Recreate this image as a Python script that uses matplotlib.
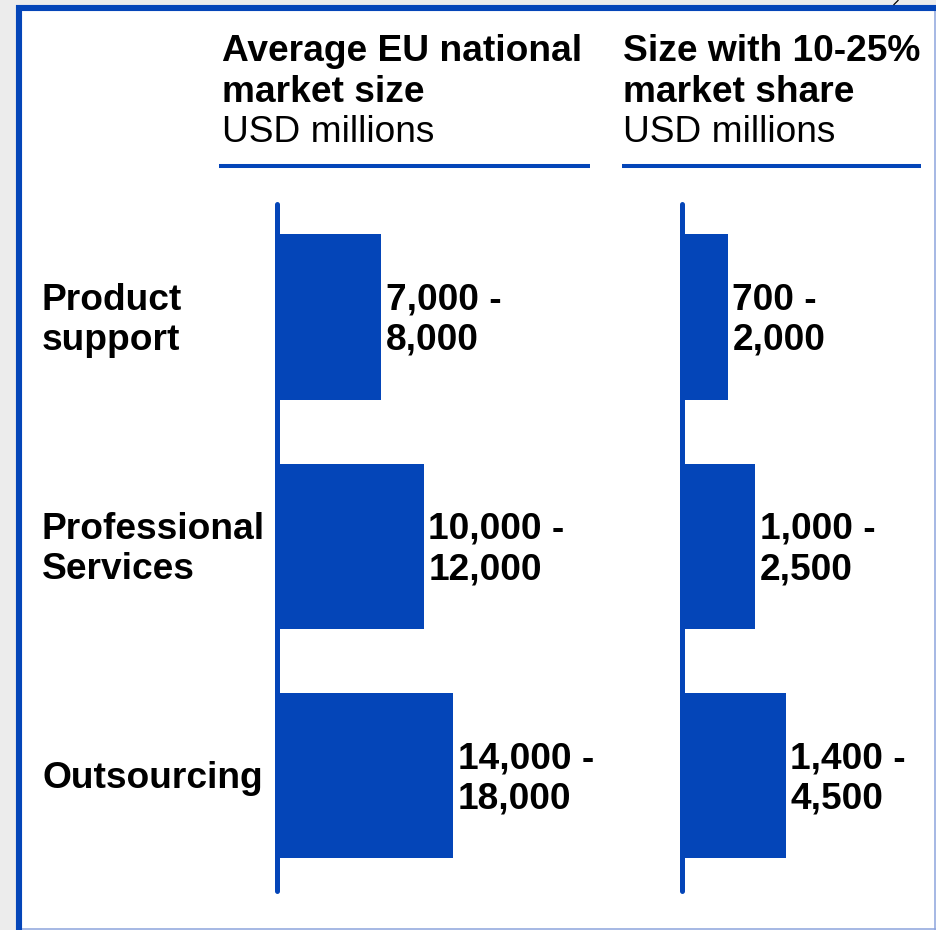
import matplotlib
matplotlib.use('Agg')
import matplotlib.pyplot as plt
from matplotlib.patches import Rectangle
from matplotlib.lines import Line2D
from matplotlib.transforms import blended_transform_factory

plt.rcParams['font.family'] = ['Liberation Sans', 'DejaVu Sans']

W, H = 936, 930
BLUE = '#0445B8'
FS = 26.7
LS = 1.19
NUDGE = 0.014  # push two-line labels down a touch so caps sit centred on the bar

categories = ['Product\nsupport', 'Professional\nServices', 'Outsourcing']
market_low = [7000, 10000, 14000]
market_high = [8000, 12000, 18000]
share_low = [700, 1000, 1400]
share_high = [2000, 2500, 4500]
# bar lengths as drawn on the slide (schematic, not to scale with the ranges)
market_bar = [104, 147, 176]
share_bar = [46, 73, 104]

header_market = ['Average EU national', 'market size', 'USD millions']
header_share = ['Size with 10-25%', 'market share', 'USD millions']


def fx(px):
    return px / W


def fy(py):
    return 1 - py / H


def fig_line(xs, ys, **kw):
    kw.setdefault('solid_capstyle', 'butt')
    fig.add_artist(Line2D([fx(x) for x in xs], [fy(y) for y in ys],
                          transform=fig.transFigure, **kw))


fig = plt.figure(figsize=(W / 100, H / 100), dpi=100)
fig.patch.set_facecolor('#ececec')

# white slide panel with its frame
fig.add_artist(Rectangle((fx(16), fy(930)), fx(936) - fx(16), fy(5) - fy(930),
                         transform=fig.transFigure, facecolor='white',
                         edgecolor='none', zorder=0))
fig_line([19, 19], [5, 930], color=BLUE, lw=4.4)
fig_line([16, 936], [8, 8], color=BLUE, lw=4.4)
fig_line([935, 935], [11, 930], color='#8da4dc', lw=1.1)
fig_line([22, 936], [929, 929], color='#8da4dc', lw=1.1)
# tail of a bracket from the slide above
fig_line([893.5, 898.5], [5, 0], color='black', lw=0.9)


def header(x0, x1, tx, lines):
    fig.text(fx(tx), fy(61), lines[0], fontsize=FS, fontweight='bold', va='baseline')
    fig.text(fx(tx), fy(102), lines[1], fontsize=FS, fontweight='bold', va='baseline')
    fig.text(fx(tx), fy(142), lines[2], fontsize=FS, va='baseline')
    fig_line([x0, x1], [166, 166], color=BLUE, lw=2.9)


def panel(left, right, bars, lows, highs):
    ax = fig.add_axes([fx(left), fy(890.5), (right - left) / W, (890.5 - 204.5) / H])
    ax.barh(range(len(bars)), bars, height=0.72, color=BLUE, zorder=2)
    ax.axvline(0, color=BLUE, lw=3.6, solid_capstyle='round', clip_on=False, zorder=3)
    ax.set_xlim(0, right - left)
    ax.set_ylim(2.5, -0.49)
    ax.axis('off')
    for i, (b, lo, hi) in enumerate(zip(bars, lows, highs)):
        ax.text(b + 5, i + NUDGE, f'{lo:,} -\n{hi:,}', ha='left', va='center',
                fontsize=FS, fontweight='bold', linespacing=LS)
    return ax


header(219, 590, 222, header_market)
header(622, 921, 623, header_share)

ax1 = panel(276.5, 600, market_bar, market_low, market_high)
panel(681.5, 930, share_bar, share_low, share_high)

trans = blended_transform_factory(fig.transFigure, ax1.transData)
for i, cat in enumerate(categories):
    ax1.text(fx(42), i + NUDGE, cat, transform=trans, ha='left', va='center',
             fontsize=FS, fontweight='bold', linespacing=LS)

fig.savefig('out.png', dpi=100, facecolor=fig.get_facecolor())
